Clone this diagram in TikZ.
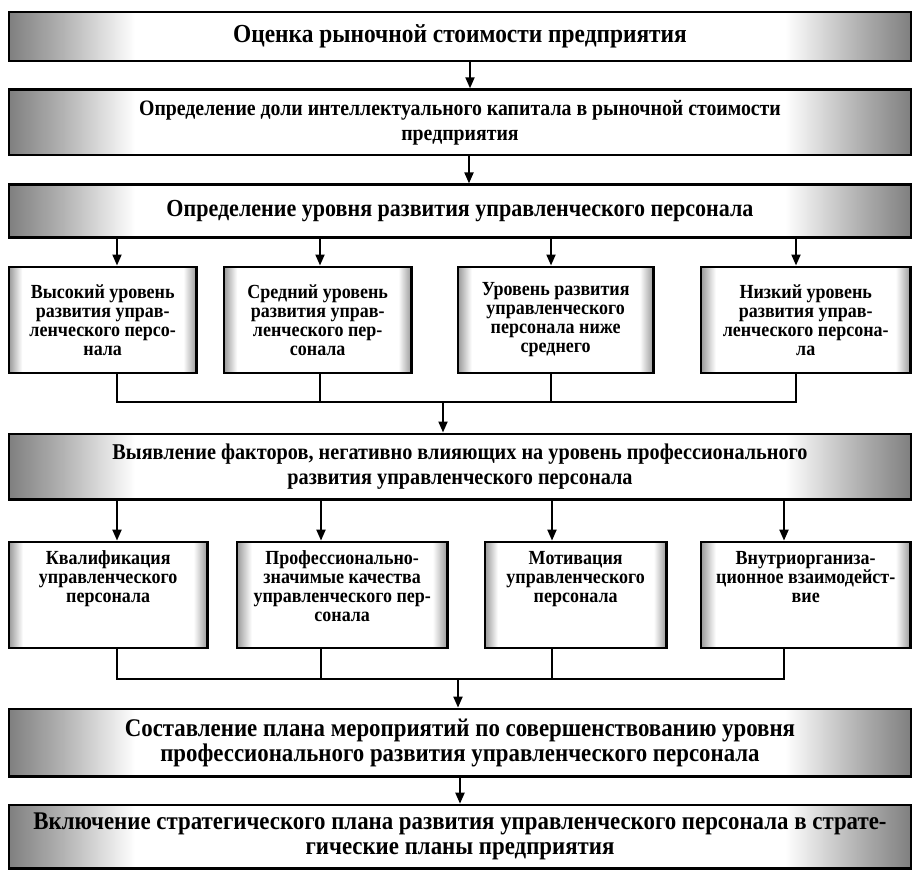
\documentclass[tikz,border=0pt]{standalone}
\usepackage{fontspec}
\newfontfamily\boxfont{Liberation Serif}[FakeStretch=0.9]
\usetikzlibrary{positioning,arrows.meta}

% speckled grey ends of the boxes, imitated by a fade
\pgfdeclarehorizontalshading{bandfade}{100bp}{color(0bp)=(black!50); color(25bp)=(black!50); color(28bp)=(black!30); color(32bp)=(white); color(68bp)=(white); color(72bp)=(black!30); color(75bp)=(black!50); color(100bp)=(black!50)}
\pgfdeclarehorizontalshading{cellfade}{100bp}{color(0bp)=(black!40); color(25bp)=(black!40); color(28.5bp)=(white); color(71.5bp)=(white); color(75bp)=(black!40); color(100bp)=(black!40)}
\newcommand{\toplines}[1]{\vbox to 88pt{\halign{\hfil##\hfil\cr#1\crcr}\vfil}}

\begin{document}
\begin{tikzpicture}[
    x=1pt, y=-1pt,
    stage/.style={draw, line width=2.6pt, shade, shading=bandfade, minimum width=902pt, inner sep=2pt, align=center, font=\boxfont\bfseries\fontsize{#1}{25}\selectfont},
    stage/.default=24,
    cell/.style={draw, line width=2.6pt, shade, shading=cellfade, minimum height=106pt, inner sep=0pt, font=\boxfont\bfseries\fontsize{20}{19}\selectfont},
    level/.style={cell, align=center},
    arrow/.style={line width=2pt, -{Triangle[length=11pt,width=9pt]}},
    link/.style={line width=2pt}
    ]
        \useasboundingbox (0,0) rectangle (915,872);
        \node [stage=26, minimum height=49pt] (cost) at (460,36.5) {Оценка рыночной стоимости предприятия};
        \node [stage=22, minimum height=65.5pt, below=26pt of cost] (share) {Определение доли интеллектуального капитала в рыночной стоимости\\ предприятия};
        \node [stage=24.5, minimum height=52.5pt, below=27pt of share] (lvl) {Определение уровня развития управленческого персонала};

        \node [level, minimum width=187.4pt, below=27pt of lvl.south west, anchor=north west] (q1) {Высокий уровень\\ развития управ-\\ ленческого персо-\\ нала};
        \node [level, minimum width=187.4pt, right=25pt of q1] (q2) {Средний уровень\\ развития управ-\\ ленческого пер-\\ сонала};
        \node [level, minimum width=195.4pt, right=44pt of q2] (q3) {Уровень развития\\ управленческого\\ персонала ниже\\ среднего};
        \node [level, minimum width=209.4pt, right=45pt of q3] (q4) {Низкий уровень\\ развития управ-\\ ленческого персона-\\ ла};

        \node [stage=22.5, minimum height=65.5pt, below=194pt of lvl] (fac) {Выявление факторов, негативно влияющих на уровень профессионального\\ развития управленческого персонала};

        \node [cell, minimum width=198.4pt, below=40pt of fac.south west, anchor=north west] (r1) {\toplines{Квалификация\cr управленческого\cr персонала}};
        \node [cell, minimum width=210.4pt, right=27pt of r1] (r2) {\toplines{Профессионально-\cr значимые качества\cr управленческого пер-\cr сонала}};
        \node [cell, minimum width=181.4pt, right=35pt of r2] (r3) {\toplines{Мотивация\cr управленческого\cr персонала}};
        \node [cell, minimum width=209.4pt, right=32pt of r3] (r4) {\toplines{Внутриорганиза-\cr ционное взаимодейст-\cr вие}};

        \node [stage=25.4, minimum height=67.5pt, below=207pt of fac] (plan) {Составление плана мероприятий по совершенствованию уровня\\ профессионального развития управленческого персонала};
        \node [stage=25.4, minimum height=63.5pt, below=26pt of plan] (incl) {Включение стратегического плана развития управленческого персонала в страте-\\ гические планы предприятия};

        % joints of the two buses
        \coordinate (j1) at (117,402);
        \coordinate (j2) at (320,402);
        \coordinate (j3) at (551,402);
        \coordinate (j4) at (796,402);
        \coordinate (jm) at (443,402);
        \coordinate (k1) at (117,679);
        \coordinate (k2) at (321,679);
        \coordinate (k3) at (552,679);
        \coordinate (k4) at (784,679);
        \coordinate (km) at (458,679);

        \draw [arrow] ([xshift=10pt]cost.south) -- ([xshift=10pt]share.north);
        \draw [arrow] ([xshift=9pt]share.south) -- ([xshift=9pt]lvl.north);

        \draw [arrow] (lvl.south -| j1) -- (q1.north -| j1);
        \draw [arrow] (lvl.south -| j2) -- (q2.north -| j2);
        \draw [arrow] (lvl.south -| j3) -- (q3.north -| j3);
        \draw [arrow] (lvl.south -| j4) -- (q4.north -| j4);
        \draw [link] (q1.south -| j1) -- (j1) -- (j4) -- (q4.south -| j4);
        \draw [link] (q2.south -| j2) -- (j2);
        \draw [link] (q3.south -| j3) -- (j3);
        \draw [arrow] (jm) -- (fac.north -| jm);

        \draw [arrow] (fac.south -| k1) -- (r1.north -| k1);
        \draw [arrow] (fac.south -| k2) -- (r2.north -| k2);
        \draw [arrow] (fac.south -| k3) -- (r3.north -| k3);
        \draw [arrow] (fac.south -| k4) -- (r4.north -| k4);
        \draw [link] (r1.south -| k1) -- (k1) -- (k4) -- (r4.south -| k4);
        \draw [link] (r2.south -| k2) -- (k2);
        \draw [link] (r3.south -| k3) -- (k3);
        \draw [arrow] (km) -- (plan.north -| km);

        \draw [arrow] (plan) edge (incl);
\end{tikzpicture}
\end{document}
